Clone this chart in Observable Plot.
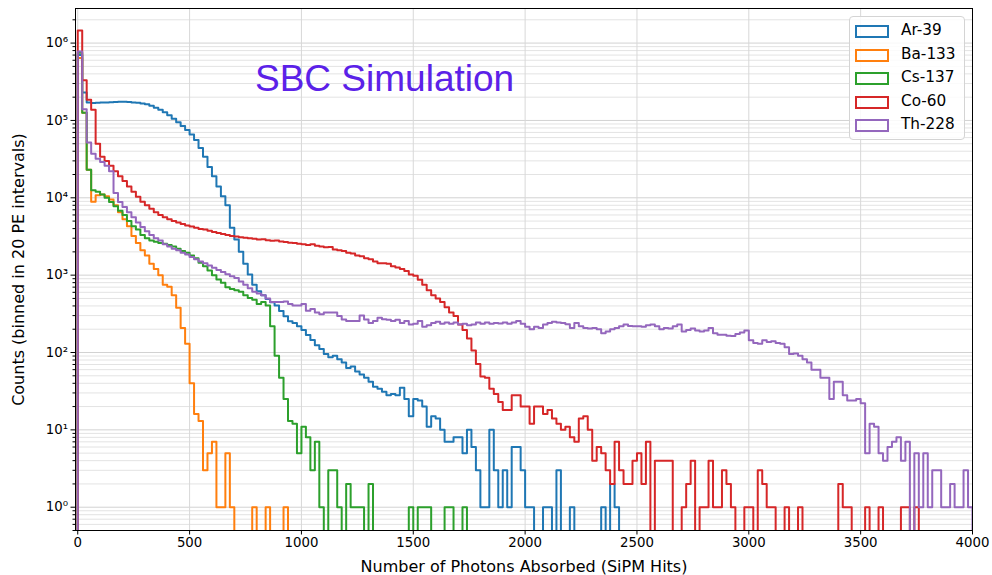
<!DOCTYPE html>
<html>
<head>
<meta charset="utf-8">
<script src="https://cdn.jsdelivr.net/npm/d3@7"></script>
<script src="https://cdn.jsdelivr.net/npm/@observablehq/plot@0.6"></script>
<style>
  html, body { margin: 0; padding: 0; background: #fff; }
  #wrap { position: relative; width: 992px; height: 575px; font-family: "DejaVu Sans", sans-serif; }
  #title { position: absolute; left: 255px; top: 60px; font: 37px/37px "Liberation Sans", Arial, sans-serif; color: #5b21e8; white-space: nowrap; }
  #legend { position: absolute; left: 849px; top: 16px; width: 116px; height: 124px; box-sizing: border-box;
            border: 1px solid #d4d4d4; border-radius: 4px; background: rgba(255,255,255,0.85); }
  .item { position: absolute; left: 0; height: 20px; width: 116px; }
  .sw { position: absolute; left: 5px; top: 3px; width: 30px; height: 9px; border: 2px solid; }
  .lab { position: absolute; left: 51px; top: 0; font-size: 15.3px; line-height: 17px; color: #000; white-space: nowrap; }
  svg [aria-label="x-axis label"], svg [aria-label="y-axis label"] { font-size: 16px; }
</style>
</head>
<body>
<div id="wrap">
  <div id="chart"></div>
  <div id="title">SBC Simulation</div>
  <div id="legend"></div>
</div>
<script>
// ---- data: counts per 20-PE bin, bins start at 0, 20, 40, ... 3980 ----
const binWidth = 20;
const seriesNames = ["Ar-39", "Ba-133", "Cs-137", "Co-60", "Th-228"];
const seriesColors = ["#1f77b4", "#ff7f0e", "#2ca02c", "#d62728", "#9467bd"];

const ar39 = [
  700000, 230000, 170000, 168000, 169000, 170000, 171000, 172000, 173000, 174000,
  174000, 173000, 171000, 169000, 166000, 162000, 155000, 146000, 137000, 128000,
  117000, 105000, 95000, 85000, 75000, 66000, 56000, 44000, 34000, 25000,
  19000, 14000, 10500, 8000, 4100, 2900, 2000, 1400, 1020, 750,
  620, 550, 490, 445, 405, 345, 295, 253, 240, 218,
  196, 168, 145, 124, 111, 96, 87, 91, 82, 74,
  63, 66, 57, 52, 47, 42, 36, 34, 31, 28,
  29, 28, 35, 25, 15, 25, 24, 20, 11, 15,
  14, 10, 7, 7, 8, 8, 5, 10, 6, 3,
  1, 1, 10, 3, 1, 3, 1, 6, 6, 3,
  1, 1, 0, 0, 1, 1, 0, 3, 0, 0,
  1, 0, 0, 0, 0, 0, 0, 1, 0, 2,
  1, 0, 0, 0, 0, 0, 0, 0, 0, 0,
  0, 0, 0, 0, 0, 0, 0, 0, 0, 0,
  0, 0, 0, 0, 0, 0, 0, 0, 0, 0,
  0, 0, 0, 0, 0, 0, 0, 0, 0, 0,
  0, 0, 0, 0, 0, 0, 0, 0, 0, 0,
  0, 0, 0, 0, 0, 0, 0, 0, 0, 0,
  0, 0, 0, 0, 0, 0, 0, 0, 0, 0,
  0, 0, 0, 0, 0, 0, 0, 0, 0, 0
];

const ba133 = [
  640000, 126000, 23000, 8900, 10800, 11000, 10500, 9500, 8000, 6500,
  5300, 4300, 3200, 2600, 2100, 1800, 1400, 1200, 1000, 750,
  710, 550, 380, 208, 130, 40, 16, 13, 3, 5,
  7, 1, 1, 5, 1, 0, 0, 0, 0, 1,
  0, 0, 1, 0, 0, 0, 1, 0, 0, 0,
  0, 0, 0, 0, 0, 0, 0, 0, 0, 0,
  0, 0, 0, 0, 0, 0, 0, 0, 0, 0,
  0, 0, 0, 0, 0, 0, 0, 0, 0, 0,
  0, 0, 0, 0, 0, 0, 0, 0, 0, 0,
  0, 0, 0, 0, 0, 0, 0, 0, 0, 0,
  0, 0, 0, 0, 0, 0, 0, 0, 0, 0,
  0, 0, 0, 0, 0, 0, 0, 0, 0, 0,
  0, 0, 0, 0, 0, 0, 0, 0, 0, 0,
  0, 0, 0, 0, 0, 0, 0, 0, 0, 0,
  0, 0, 0, 0, 0, 0, 0, 0, 0, 0,
  0, 0, 0, 0, 0, 0, 0, 0, 0, 0,
  0, 0, 0, 0, 0, 0, 0, 0, 0, 0,
  0, 0, 0, 0, 0, 0, 0, 0, 0, 0,
  0, 0, 0, 0, 0, 0, 0, 0, 0, 0,
  0, 0, 0, 0, 0, 0, 0, 0, 0, 0
];

const cs137 = [
  750000, 126000, 23000, 12500, 12000, 11000, 10000, 8800, 7800, 6800,
  6000, 5000, 4300, 3900, 3300, 3000, 2800, 2700, 2600, 2550,
  2450, 2350, 2200, 2050, 1950, 1800, 1650, 1450, 1300, 1150,
  1000, 880, 800, 700, 660, 640, 610, 550, 505, 480,
  425, 450, 405, 218, 91, 47, 25, 13, 12, 5,
  11, 8, 3, 7, 1, 0, 3, 3, 1, 0,
  2, 1, 1, 1, 0, 2, 0, 0, 0, 0,
  0, 0, 0, 0, 1, 0, 1, 1, 1, 0,
  0, 0, 1, 1, 0, 0, 1, 0, 0, 0,
  0, 0, 0, 0, 0, 0, 0, 0, 0, 0,
  0, 0, 0, 0, 0, 0, 0, 0, 0, 0,
  0, 0, 0, 0, 0, 0, 0, 0, 0, 0,
  0, 0, 0, 0, 0, 0, 0, 0, 0, 0,
  0, 0, 0, 0, 0, 0, 0, 0, 0, 0,
  0, 0, 0, 0, 0, 0, 0, 0, 0, 0,
  0, 0, 0, 0, 0, 0, 0, 0, 0, 0,
  0, 0, 0, 0, 0, 0, 0, 0, 0, 0,
  0, 0, 0, 0, 0, 0, 0, 0, 0, 0,
  0, 0, 0, 0, 0, 0, 0, 0, 0, 0,
  0, 0, 0, 0, 0, 0, 0, 0, 0, 0
];

const co60 = [
  1450000, 330000, 185000, 137000, 50000, 34000, 30000, 26000, 22000, 19000,
  16500, 14000, 12000, 10300, 8900, 8000, 7200, 6500, 6000, 5600,
  5300, 5000, 4800, 4600, 4400, 4250, 4100, 3950, 3900, 3750,
  3600, 3500, 3400, 3300, 3200, 3150, 3100, 3050, 3000, 2950,
  2900, 2920, 2820, 2780, 2800, 2720, 2680, 2620, 2600, 2550,
  2500, 2450, 2500, 2400, 2350, 2300, 2320, 2150, 2100, 2050,
  1950, 1900, 1800, 1750, 1650, 1600, 1500, 1420, 1420, 1400,
  1300, 1260, 1200, 1130, 1020, 980, 870, 750, 640, 550,
  500, 450, 385, 330, 297, 230, 196, 152, 106, 71,
  49, 47, 34, 29, 23, 18, 18, 28, 28, 20,
  20, 12, 20, 20, 16, 18, 14, 12, 10, 11,
  8, 7, 14, 15, 10, 4, 6, 5, 3, 2,
  7, 3, 2, 2, 4, 5, 2, 7, 0, 4,
  4, 4, 4, 0, 0, 1, 2, 4, 0, 1,
  1, 4, 1, 1, 3, 2, 1, 0, 0, 1,
  1, 0, 3, 2, 1, 1, 0, 0, 1, 0,
  0, 1, 0, 0, 0, 0, 0, 0, 0, 0,
  2, 1, 1, 0, 0, 0, 1, 0, 0, 1,
  0, 0, 0, 0, 1, 1, 0, 1, 0, 0,
  0, 0, 0, 0, 0, 0, 0, 0, 0, 0
];

const th228 = [
  780000, 140000, 52000, 37000, 32000, 29000, 26000, 22000, 11500, 8800,
  7600, 6500, 5600, 4800, 4200, 3700, 3300, 3000, 2800, 2500,
  2350, 2200, 2100, 1950, 1850, 1720, 1600, 1500, 1420, 1330,
  1250, 1170, 1100, 1030, 970, 920, 830, 750, 675, 610,
  580, 550, 500, 450, 450, 450, 457, 425, 405, 405,
  425, 347, 365, 330, 312, 330, 330, 330, 297, 268,
  255, 255, 255, 302, 268, 241, 255, 282, 270, 265,
  255, 265, 240, 255, 230, 235, 255, 215, 225, 240,
  250, 235, 245, 235, 245, 230, 235, 225, 230, 245,
  235, 245, 235, 240, 238, 245, 235, 245, 255, 235,
  215, 200, 215, 208, 230, 241, 250, 245, 240, 232,
  208, 240, 218, 208, 205, 208, 200, 178, 187, 200,
  208, 218, 230, 220, 218, 218, 215, 225, 230, 218,
  200, 208, 205, 218, 230, 187, 195, 205, 192, 187,
  192, 208, 178, 170, 170, 165, 163, 174, 181, 192,
  144, 133, 130, 144, 137, 140, 133, 130, 117, 96,
  97, 91, 82, 74, 60, 60, 47, 47, 25, 42,
  42, 28, 24, 24, 25, 22, 5, 12, 11, 5,
  4, 6, 7, 8, 4, 7, 0, 5, 1, 5,
  1, 3, 3, 1, 1, 2, 1, 1, 3, 1
];

const xTicks = [0, 500, 1000, 1500, 2000, 2500, 3000, 3500, 4000];
const yTicks = [1, 10, 100, 1000, 10000, 100000, 1000000];
const minorSteps = [2, 3, 4, 5, 6, 7, 8, 9];
const xLabel = "Number of Photons Absorbed (SiPM Hits)";
const yLabel = "Counts (binned in 20 PE intervals)";
const titleText = "SBC Simulation";

// ---- build the step table (empty bins drop below the log axis and are clipped) ----
const belowAxis = 1e-3;
const allCounts = [ar39, ba133, cs137, co60, th228];
const rows = [];
allCounts.forEach((counts, k) => {
  const s = seriesNames[k];
  const v = c => (c > 0 ? c : belowAxis);
  rows.push({series: s, x: 0, y: belowAxis});
  counts.forEach((c, i) => rows.push({series: s, x: i * binWidth, y: v(c)}));
  rows.push({series: s, x: counts.length * binWidth, y: v(counts[counts.length - 1])});
  rows.push({series: s, x: counts.length * binWidth, y: belowAxis});
});

const yDomain = [0.5, 2.8e6];
const yMinor = [];
[0.1, ...yTicks].forEach(t => minorSteps.forEach(m => {
  const val = t * m;
  if (val >= yDomain[0] && val <= yDomain[1]) yMinor.push(val);
}));

const supDigits = "⁰¹²³⁴⁵⁶⁷⁸⁹";
const powFormat = d => "10" + String(Math.round(Math.log10(d))).replace(/\d/g, c => supDigits[+c]);

const chart = Plot.plot({
  width: 992,
  height: 575,
  marginLeft: 75,
  marginRight: 20,
  marginTop: 8,
  marginBottom: 45,
  x: {type: "linear", domain: [-10, 4000]},
  y: {type: "log", domain: yDomain},
  color: {domain: seriesNames, range: seriesColors},
  style: {fontFamily: "DejaVu Sans", fontSize: "13.3px", background: "#fff", color: "#000"},
  marks: [
    Plot.gridY(yMinor, {stroke: "#e3e3e3", strokeOpacity: 1, strokeWidth: 1}),
    Plot.gridY(yTicks, {stroke: "#d2d2d2", strokeOpacity: 1, strokeWidth: 1}),
    Plot.gridX(xTicks, {stroke: "#d8d8d8", strokeOpacity: 1, strokeWidth: 1}),
    Plot.line(rows, {x: "x", y: "y", z: "series", stroke: "series", curve: "step-after", strokeWidth: 2, clip: true}),
    Plot.frame({stroke: "#000", strokeWidth: 1}),
    Plot.axisX(xTicks, {tickSize: 4.5, tickPadding: 3, tickFormat: d => String(d), label: xLabel, labelAnchor: "center", labelArrow: "none", labelOffset: 41}),
    Plot.axisY(yTicks, {tickSize: 4.5, tickPadding: 3, tickFormat: powFormat, label: yLabel, labelAnchor: "center", labelArrow: "none", labelOffset: 63}),
    Plot.axisY(yMinor, {tickSize: 2.5, tickFormat: () => "", label: null})
  ]
});
document.getElementById("chart").appendChild(chart);
document.getElementById("title").textContent = titleText;

// ---- legend (inside the plot, top right) ----
const legend = document.getElementById("legend");
seriesNames.forEach((name, k) => {
  const item = document.createElement("div");
  item.className = "item";
  item.style.top = (5 + 23.5 * k) + "px";
  const sw = document.createElement("div");
  sw.className = "sw";
  sw.style.borderColor = seriesColors[k];
  const lab = document.createElement("div");
  lab.className = "lab";
  lab.textContent = name;
  item.appendChild(sw);
  item.appendChild(lab);
  legend.appendChild(item);
});
</script>
</body>
</html>
